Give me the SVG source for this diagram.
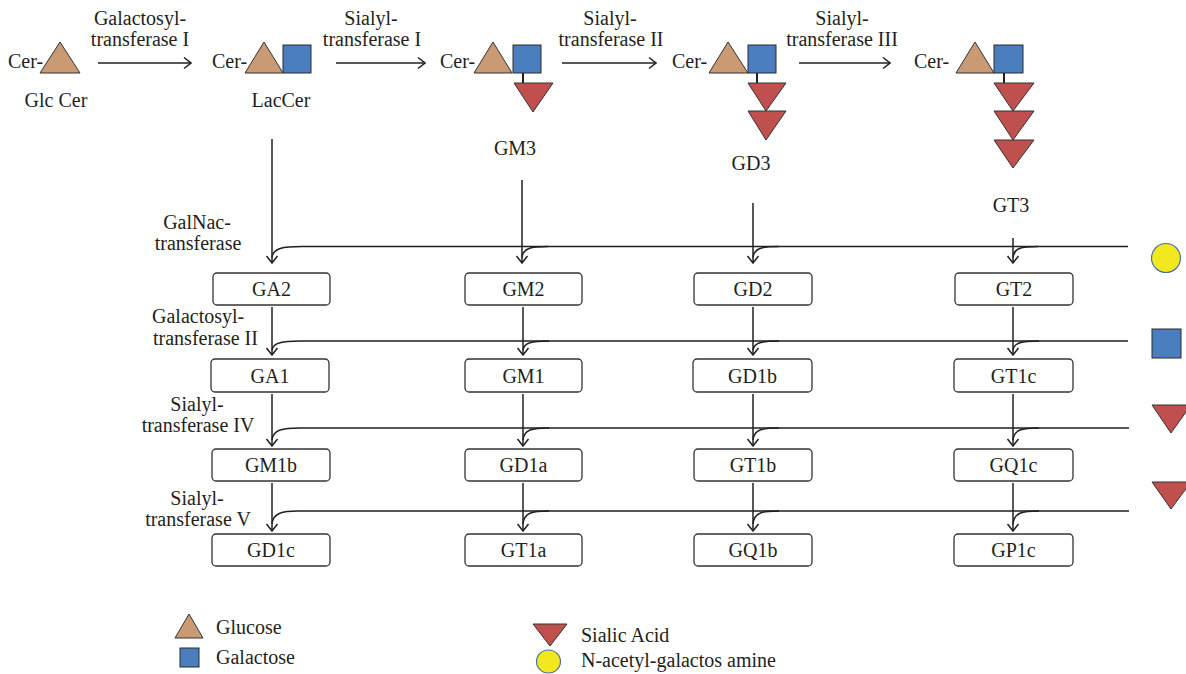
<svg xmlns="http://www.w3.org/2000/svg" width="1186" height="674" viewBox="0 0 1186 674">
<defs>
<style>
text{font-family:"Liberation Serif","Times New Roman",serif;font-size:20px;fill:#231f20}
.m{text-anchor:middle}
.ln{fill:none;stroke:#231f20;stroke-width:1.5}
.box{fill:#fff;stroke:#333;stroke-width:1.3}
.glc{fill:#c99a74;stroke:#333;stroke-width:1}
.gal{fill:#4a7ebf;stroke:#2b2b2b;stroke-width:1}
.sia{fill:#c0504d;stroke:#333;stroke-width:1}
.nac{fill:#f2e81e;stroke:#4f6fa8;stroke-width:1.2}
.stem{stroke:#231f20;stroke-width:2}
</style>
<marker id="arr" viewBox="-8 -7 9 14" refX="0" refY="0" markerWidth="9" markerHeight="14" orient="auto" markerUnits="userSpaceOnUse">
<path d="M-7,-5.5 L0,0 L-7,5.5" fill="none" stroke="#231f20" stroke-width="1.5"/>
</marker>
</defs>

<g id="glccer">
<text x="8" y="68">Cer-</text>
<polygon class="glc" points="40,73 80,73 60,42"/>
<text class="m" x="56" y="107">Glc Cer</text>
</g>

<g id="laccer">
<text x="212" y="68">Cer-</text>
<polygon class="glc" points="245,73 283,73 264,42"/>
<rect class="gal" x="283" y="45" width="28" height="28"/>
<text class="m" x="281" y="107">LacCer</text>
</g>

<g id="gm3">
<text x="440" y="68">Cer-</text>
<polygon class="glc" points="474,73 512,73 493,42"/>
<rect class="gal" x="513" y="45" width="28" height="28"/>
<line class="stem" x1="523" y1="73" x2="523" y2="83"/>
<polygon class="sia" points="514,83 553,83 533,112"/>
<text class="m" x="515" y="155">GM3</text>
</g>

<g id="gd3">
<text x="672" y="68">Cer-</text>
<polygon class="glc" points="709,73 748,73 728,42"/>
<rect class="gal" x="748" y="45" width="28" height="28"/>
<line class="stem" x1="757" y1="73" x2="757" y2="83"/>
<polygon class="sia" points="748,83 786,83 766,111"/>
<polygon class="sia" points="748,111 786,111 766,140"/>
<text class="m" x="751" y="170">GD3</text>
</g>

<g id="gt3">
<text x="914" y="68">Cer-</text>
<polygon class="glc" points="956,73 994,73 975,42"/>
<rect class="gal" x="994" y="45" width="29" height="28"/>
<line class="stem" x1="1004" y1="73" x2="1004" y2="83"/>
<polygon class="sia" points="994,83 1034,83 1013,111"/>
<polygon class="sia" points="994,111 1034,111 1013,140"/>
<polygon class="sia" points="994,140 1034,140 1013,168"/>
<text class="m" x="1011" y="212">GT3</text>
</g>

<g id="enzyme-labels">
<text class="m" x="140" y="25">Galactosyl-</text>
<text class="m" x="140" y="46">transferase I</text>
<text class="m" x="371" y="25">Sialyl-</text>
<text class="m" x="372" y="46">transferase I</text>
<text class="m" x="610" y="25">Sialyl-</text>
<text class="m" x="611" y="46">transferase II</text>
<text class="m" x="842" y="25">Sialyl-</text>
<text class="m" x="842" y="46">transferase III</text>
<text class="m" x="197" y="229">GalNac-</text>
<text class="m" x="198" y="250">transferase</text>
<text x="152" y="323">Galactosyl-</text>
<text x="153" y="345">transferase II</text>
<text class="m" x="197" y="411">Sialyl-</text>
<text class="m" x="198" y="432">transferase IV</text>
<text class="m" x="197" y="505">Sialyl-</text>
<text class="m" x="198" y="526">transferase V</text>
</g>

<g id="connectors">
<path class="ln" marker-end="url(#arr)" d="M98,63 H191"/>
<path class="ln" marker-end="url(#arr)" d="M336,63 H425"/>
<path class="ln" marker-end="url(#arr)" d="M562,63 H656"/>
<path class="ln" marker-end="url(#arr)" d="M799,63 H890"/>

<path class="ln" marker-end="url(#arr)" d="M272,139 V263"/>
<path class="ln" marker-end="url(#arr)" d="M522,180 V263"/>
<path class="ln" marker-end="url(#arr)" d="M753,203 V263"/>
<path class="ln" marker-end="url(#arr)" d="M1013,238 V263"/>

<path class="ln" marker-end="url(#arr)" d="M272,307 V355"/>
<path class="ln" marker-end="url(#arr)" d="M523,307 V355"/>
<path class="ln" marker-end="url(#arr)" d="M753,307 V355"/>
<path class="ln" marker-end="url(#arr)" d="M1013,307 V355"/>

<path class="ln" marker-end="url(#arr)" d="M272,394 V446"/>
<path class="ln" marker-end="url(#arr)" d="M523,394 V446"/>
<path class="ln" marker-end="url(#arr)" d="M753,394 V446"/>
<path class="ln" marker-end="url(#arr)" d="M1013,394 V446"/>

<path class="ln" marker-end="url(#arr)" d="M272,483 V531"/>
<path class="ln" marker-end="url(#arr)" d="M523,483 V531"/>
<path class="ln" marker-end="url(#arr)" d="M753,483 V531"/>
<path class="ln" marker-end="url(#arr)" d="M1013,483 V531"/>

<path class="ln" d="M1128,246.5 H302 C283,246.5 273,248 272,257.5"/>
<path class="ln" d="M548,246.5 C531,246.5 523,248 522,257.5"/>
<path class="ln" d="M779,246.5 C762,246.5 754,248 753,257.5"/>
<path class="ln" d="M1038,246.5 C1021,246.5 1014,248 1013,257.5"/>

<path class="ln" d="M1128,341 H300 C283,341 273,342.5 272,350"/>
<path class="ln" d="M549,341 C532,341 524,342.5 523,350"/>
<path class="ln" d="M779,341 C762,341 754,342.5 753,350"/>
<path class="ln" d="M1039,341 C1022,341 1014,342.5 1013,350"/>

<path class="ln" d="M1129,428 H300 C283,428 273,429.5 272,440"/>
<path class="ln" d="M549,428 C532,428 524,429.5 523,440"/>
<path class="ln" d="M779,428 C762,428 754,429.5 753,440"/>
<path class="ln" d="M1039,428 C1022,428 1014,429.5 1013,440"/>

<path class="ln" d="M1129,511 H298 C283,511 273,512.5 272,524"/>
<path class="ln" d="M549,511 C532,511 524,512.5 523,524"/>
<path class="ln" d="M779,511 C762,511 754,512.5 753,524"/>
<path class="ln" d="M1039,511 C1022,511 1014,512.5 1013,524"/>
</g>

<g id="ga2"><rect class="box" x="213" y="273" width="117" height="32" rx="4"/><text class="m" x="271.5" y="296">GA2</text></g>
<g id="gm2"><rect class="box" x="465" y="273" width="117" height="32" rx="4"/><text class="m" x="523.5" y="296">GM2</text></g>
<g id="gd2"><rect class="box" x="694" y="273" width="118" height="32" rx="4"/><text class="m" x="753" y="296">GD2</text></g>
<g id="gt2"><rect class="box" x="955" y="273" width="118" height="32" rx="4"/><text class="m" x="1014" y="296">GT2</text></g>

<g id="ga1"><rect class="box" x="211" y="359" width="118" height="33" rx="4"/><text class="m" x="270" y="383">GA1</text></g>
<g id="gm1"><rect class="box" x="465" y="359" width="117" height="33" rx="4"/><text class="m" x="523.5" y="383">GM1</text></g>
<g id="gd1b"><rect class="box" x="693" y="359" width="119" height="33" rx="4"/><text class="m" x="752.5" y="383">GD1b</text></g>
<g id="gt1c"><rect class="box" x="954" y="359" width="119" height="33" rx="4"/><text class="m" x="1013.5" y="383">GT1c</text></g>

<g id="gm1b"><rect class="box" x="212" y="449" width="118" height="32" rx="4"/><text class="m" x="271" y="472">GM1b</text></g>
<g id="gd1a"><rect class="box" x="465" y="449" width="117" height="32" rx="4"/><text class="m" x="523.5" y="472">GD1a</text></g>
<g id="gt1b"><rect class="box" x="694" y="449" width="118" height="32" rx="4"/><text class="m" x="753" y="472">GT1b</text></g>
<g id="gq1c"><rect class="box" x="954" y="449" width="119" height="32" rx="4"/><text class="m" x="1013.5" y="472">GQ1c</text></g>

<g id="gd1c"><rect class="box" x="212" y="534" width="118" height="32" rx="4"/><text class="m" x="271" y="557">GD1c</text></g>
<g id="gt1a"><rect class="box" x="465" y="534" width="117" height="32" rx="4"/><text class="m" x="523.5" y="557">GT1a</text></g>
<g id="gq1b"><rect class="box" x="694" y="534" width="118" height="32" rx="4"/><text class="m" x="753" y="557">GQ1b</text></g>
<g id="gp1c"><rect class="box" x="954" y="534" width="119" height="32" rx="4"/><text class="m" x="1013.5" y="557">GP1c</text></g>

<g id="side-symbols">
<circle class="nac" cx="1166" cy="258" r="14.5"/>
<rect class="gal" x="1152" y="329" width="29" height="29"/>
<polygon class="sia" points="1152,405 1191,405 1171,433"/>
<polygon class="sia" points="1152,482 1191,482 1171,509"/>
</g>

<g id="legend">
<polygon class="glc" points="175,638 203,638 189,614"/>
<text x="216" y="634">Glucose</text>
<rect class="gal" x="180" y="648" width="19" height="19"/>
<text x="216" y="664">Galactose</text>
<polygon class="sia" points="533,624 567,624 550,646"/>
<text x="581" y="642">Sialic Acid</text>
<ellipse class="nac" cx="548.5" cy="661.5" rx="12" ry="11.5"/>
<text x="581" y="667">N-acetyl-galactos amine</text>
</g>
</svg>
